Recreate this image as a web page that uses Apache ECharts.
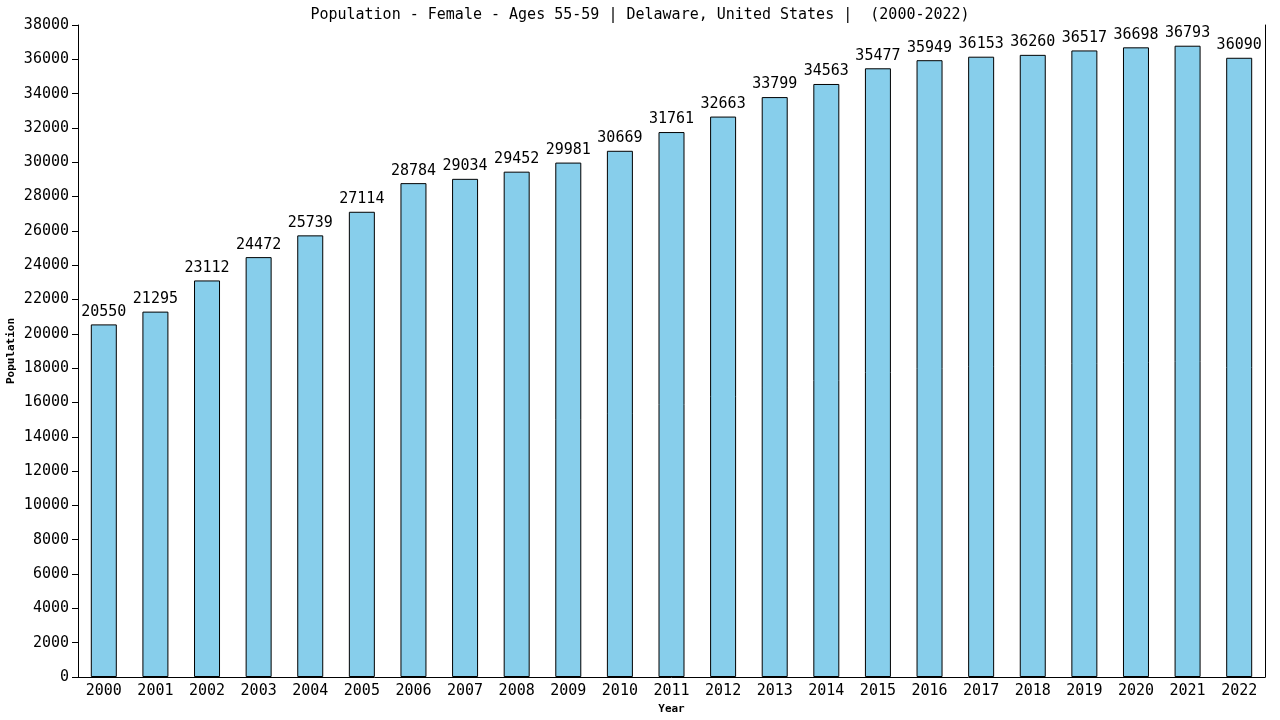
<!DOCTYPE html>
<html><head><meta charset="utf-8">
<script src="https://cdn.jsdelivr.net/npm/echarts@6/dist/echarts.min.js"></script>
<style>html,body{margin:0;padding:0;background:#fff}#c{width:1280px;height:720px}</style>
</head><body><div id="c"></div>
<script>
const years = ['2000','2001','2002','2003','2004','2005','2006','2007','2008','2009','2010','2011','2012','2013','2014','2015','2016','2017','2018','2019','2020','2021','2022'];
const population = [20550,21295,23112,24472,25739,27114,28784,29034,29452,29981,30669,31761,32663,33799,34563,35477,35949,36153,36260,36517,36698,36793,36090];
const FONT = 'DejaVu Sans Mono';
const chart = echarts.init(document.getElementById('c'));
chart.setOption({
  animation: false,
  backgroundColor: '#fff',
  title: {
    text: 'Population - Female - Ages 55-59 | Delaware, United States |  (2000-2022)',
    left: 'center', top: 3,
    textStyle: {fontFamily: FONT, fontSize: 15, fontWeight: 'normal', color: '#000'}
  },
  grid: {left: 78, right: 15, top: 25, bottom: 43, containLabel: false, outerBoundsMode: 'none'},
  xAxis: {
    type: 'category', data: years,
    name: 'Year', nameLocation: 'middle', nameGap: 27,
    nameTextStyle: {fontFamily: FONT, fontSize: 11, fontWeight: 'bold', color: '#000'},
    axisLine: {lineStyle: {color: '#000', width: 1}},
    axisTick: {show: false},
    axisLabel: {fontFamily: FONT, fontSize: 15, color: '#000', margin: 7}
  },
  yAxis: [{
    type: 'value', min: 0, max: 38000, interval: 2000,
    name: 'Population', nameLocation: 'middle', nameGap: 61, nameMoveOverlap: false,
    nameTextStyle: {fontFamily: FONT, fontSize: 11, fontWeight: 'bold', color: '#000'},
    axisLine: {show: true, lineStyle: {color: '#000'}},
    axisTick: {show: true, length: 6, inside: false, lineStyle: {color: '#000'}},
    splitLine: {show: false},
    axisLabel: {fontFamily: FONT, fontSize: 15, color: '#000', margin: 9, formatter: v => String(v)}
  }, {
    type: 'value', min: 0, max: 38000, interval: 2000, position: 'right',
    axisLine: {show: true, lineStyle: {color: '#000'}},
    axisTick: {show: false}, axisLabel: {show: false}, splitLine: {show: false}
  }],
  series: [{
    type: 'bar', data: population, barWidth: 26,
    itemStyle: {color: '#87ceeb', borderColor: '#000', borderWidth: 1},
    label: {show: true, position: 'top', distance: 5, fontFamily: FONT, fontSize: 15, color: '#000'}
  }]
});
</script></body></html>
